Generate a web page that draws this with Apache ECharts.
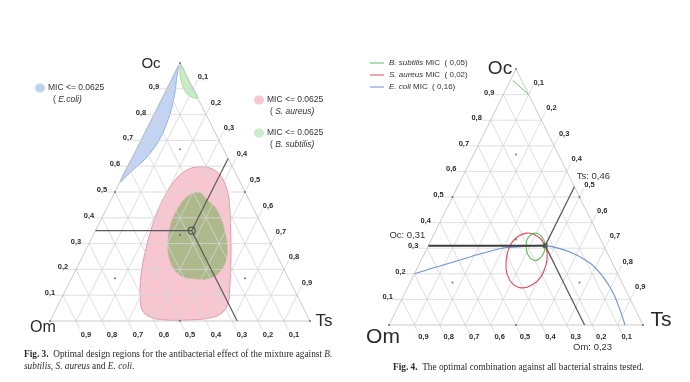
<!DOCTYPE html>
<html><head><meta charset="utf-8">
<script src="https://cdn.jsdelivr.net/npm/echarts@6/dist/echarts.min.js"></script>
<style>html,body{margin:0;padding:0;background:#fff}#c{width:690px;height:382px}</style>
</head><body><div id="c"></div>
<script>
// ---------------- DATA (compositions as [Om, Ts, Oc]) ----------------
const ticks = [0.1, 0.2, 0.3, 0.4, 0.5, 0.6, 0.7, 0.8, 0.9];
const tickLabels = ['0,1', '0,2', '0,3', '0,4', '0,5', '0,6', '0,7', '0,8', '0,9'];
const vertexNames = ['Om', 'Ts', 'Oc'];

// simplex-centroid design points (with axial points)
const designPoints = [[1,0,0],[0,1,0],[0,0,1],[0.5,0.5,0],[0.5,0,0.5],[0,0.5,0.5],
  [0.333,0.333,0.334],[0.667,0.167,0.166],[0.167,0.667,0.166],[0.167,0.167,0.666]];

// Fig. 3 regions (MIC <= 0.0625)
const ecoliRegion3 = [[0.01,0,0.99],[0.04,0.015,0.945],[0.08,0.04,0.88],[0.135,0.06,0.805],[0.22,0.07,0.71],
  [0.31,0.055,0.635],[0.405,0.02,0.575],[0.46,0,0.54],[0.35,0,0.65],[0.2,0,0.8],[0.08,0,0.92]];
const saureusRegion3 = [[0.136,0.267,0.597],[0.089,0.318,0.593],[0.063,0.371,0.566],[0.065,0.427,0.508],
  [0.093,0.477,0.43],[0.138,0.529,0.333],[0.186,0.578,0.236],[0.238,0.622,0.14],[0.28,0.65,0.07],
  [0.323,0.646,0.031],[0.379,0.609,0.012],[0.46,0.536,0.004],[0.556,0.44,0.004],[0.607,0.377,0.016],
  [0.624,0.333,0.043],[0.603,0.296,0.101],[0.561,0.261,0.178],[0.503,0.233,0.264],[0.435,0.212,0.353],
  [0.37,0.2,0.43],[0.3,0.2,0.5],[0.235,0.211,0.554],[0.181,0.234,0.585]];
const bsubtilisRegion3 = [[0.181,0.319,0.5],[0.161,0.37,0.469],[0.143,0.427,0.43],[0.156,0.503,0.341],
  [0.187,0.549,0.264],[0.23,0.561,0.209],[0.287,0.542,0.171],[0.353,0.484,0.163],[0.411,0.411,0.178],
  [0.422,0.353,0.225],[0.403,0.31,0.287],[0.356,0.28,0.364],[0.297,0.273,0.43],[0.232,0.287,0.481]];
const bsubtilisApex3 = [[0,0.005,0.995],[0,0.07,0.93],[0,0.136,0.864],[0.03,0.094,0.876],[0.035,0.058,0.907],[0.023,0.024,0.953]];
const optimum3 = [0.28, 0.37, 0.35];
const legend3 = ['E.coli', 'S. aureus', 'B. subtilis'];
const micLimit3 = '0.0625';

// Fig. 4 contours
const bsubtilisContour4 = [[0.246,0.395,0.359],[0.228,0.424,0.348],[0.226,0.454,0.32],[0.247,0.468,0.285],
  [0.28,0.462,0.258],[0.306,0.44,0.254],[0.316,0.411,0.273],[0.308,0.387,0.305],[0.283,0.377,0.34]];
const saureusContour4 = [[0.277,0.364,0.359],[0.243,0.409,0.348],[0.23,0.45,0.32],[0.237,0.482,0.281],
  [0.265,0.501,0.234],[0.308,0.504,0.188],[0.359,0.485,0.156],[0.404,0.451,0.145],[0.432,0.408,0.16],
  [0.436,0.365,0.199],[0.416,0.338,0.246],[0.377,0.322,0.301],[0.33,0.33,0.34]];
const ecoliContour4 = [[0.8,0,0.2],[0.715,0.062,0.223],[0.593,0.153,0.254],[0.489,0.23,0.281],[0.4,0.299,0.301],
  [0.343,0.352,0.305],[0.23,0.46,0.31],[0.145,0.57,0.285],[0.088,0.67,0.242],[0.063,0.749,0.188],
  [0.055,0.82,0.125],[0.061,0.88,0.059],[0.071,0.929,0]];
const bsubtilisApex4 = [[0.035,0.01,0.955],[0,0.1,0.9]];
const optimum4 = [0.23, 0.46, 0.31];
const legend4 = ['B. subtilis', 'S. aureus', 'E. coli'];
const mic4 = ['0,05', '0,02', '0,16'];

// ---------------- helpers ----------------
const toXY = p => [p[1] + p[2] / 2, p[2]];
const fmt = v => v.toFixed(2).replace('.', ',');
const EXT = 0.035;
const FIELD = [[0.5, 0.5]];

function gridSegments() {
  const s = [];
  ticks.forEach(t => {
    s.push([[1 - t + EXT, -EXT, t], [0, 1 - t, t]]);       // Oc = t
    s.push([[1 - t, t, 0], [-EXT, t, 1 - t + EXT]]);       // Ts = t
    s.push([[t, 0, 1 - t], [t, 1 - t + EXT, -EXT]]);       // Om = t
  });
  return s;
}
const edges = [[[1,0,0],[0,1,0]], [[0,1,0],[0,0,1]], [[0,0,1],[1,0,0]]];

function base(gi, z) {
  return { type: 'custom', coordinateSystem: 'cartesian2d', xAxisIndex: gi, yAxisIndex: gi, clip: false, silent: true, z: z };
}
function segSeries(gi, segs, color, width, z) {
  return Object.assign(base(gi, z), {
    data: segs.map(() => [0.5, 0.5]),
    renderItem: (params, api) => {
      const sg = segs[params.dataIndex];
      const a = api.coord(toXY(sg[0])), b = api.coord(toXY(sg[1]));
      return { type: 'line', shape: { x1: a[0], y1: a[1], x2: b[0], y2: b[1] }, style: { stroke: color, lineWidth: width } };
    }
  });
}
function polySeries(gi, pts, fill, stroke, width, smooth, z, closed) {
  return Object.assign(base(gi, z), {
    data: FIELD,
    renderItem: (params, api) => ({
      type: closed ? 'polygon' : 'polyline',
      shape: { points: pts.map(p => api.coord(toXY(p))), smooth: smooth },
      style: { fill: fill, stroke: stroke, lineWidth: width }
    })
  });
}
function textSeries(gi, items, z) { // items: {p, text, dx, dy, font, align}
  return Object.assign(base(gi, z), {
    data: items.map(() => [0.5, 0.5]),
    renderItem: (params, api) => {
      const it = items[params.dataIndex];
      const c = api.coord(toXY(it.p));
      return { type: 'text', x: c[0] + it.dx, y: c[1] + it.dy,
        style: { text: it.text, font: it.font, fill: it.color || '#2a2a2a', align: it.align || 'center', verticalAlign: 'middle' } };
    }
  });
}
function tickItems(off, font) {
  const out = [];
  ticks.forEach((t, i) => {
    out.push({ p: [1 - t, 0, t], text: tickLabels[i], dx: off.left[0], dy: off.left[1], font });
    out.push({ p: [0, t, 1 - t], text: tickLabels[i], dx: off.right[0], dy: off.right[1], font });
    out.push({ p: [t, 1 - t, 0], text: tickLabels[i], dx: off.bottom[0], dy: off.bottom[1], font });
  });
  return out;
}
function optimumSegs(p) {
  return [[p, [1 - p[2], 0, p[2]]], [p, [0, p[1], 1 - p[1]]], [p, [p[0], 1 - p[0], 0]]];
}

const GRID_C = '#d6d6d6';
const series = [];

// ---------- Fig. 3 (grid 0) ----------
series.push(polySeries(0, saureusRegion3, '#f8c6d0', '#d98a9a', 0.8, 0.4, 2, true));
series.push(polySeries(0, ecoliRegion3, '#c2d3f3', '#86a3dc', 0.8, 0.3, 2, true));
series.push(polySeries(0, bsubtilisApex3, '#c9edc6', '#9fd29c', 0.8, 0.3, 2, true));
series.push(polySeries(0, bsubtilisRegion3, '#adb88b', '#c7b59a', 0.8, 0.4, 3, true));
series.push(segSeries(0, gridSegments(), GRID_C, 0.8, 4));
series.push(segSeries(0, edges, '#c4c4c4', 0.9, 4));
series.push({ type: 'scatter', xAxisIndex: 0, yAxisIndex: 0, data: designPoints.map(toXY), symbolSize: 2,
  itemStyle: { color: '#555' }, silent: true, z: 5 });
series.push(segSeries(0, optimumSegs(optimum3), '#5a5a5a', 1.2, 6));
series.push({ type: 'scatter', xAxisIndex: 0, yAxisIndex: 0, data: [toXY(optimum3)], symbolSize: 7,
  itemStyle: { color: 'rgba(0,0,0,0)', borderColor: '#444', borderWidth: 1.2 }, silent: true, z: 7 });
series.push(textSeries(0, tickItems({ left: [-13, -2], right: [10, -12], bottom: [10, 14] }, 'bold 7.5px Arial'), 8));
series.push(textSeries(0, [
  { p: [0, 0, 1], text: vertexNames[2], dx: -29, dy: 1, font: '15px Arial' },
  { p: [1, 0, 0], text: vertexNames[0], dx: -7, dy: 7, font: '16px Arial' },
  { p: [0, 1, 0], text: vertexNames[1], dx: 14, dy: 0, font: '17px Arial' }
], 8));

// ---------- Fig. 4 (grid 1) ----------
series.push(segSeries(1, gridSegments(), GRID_C, 0.8, 1));
series.push(segSeries(1, edges, '#c4c4c4', 0.9, 1));
series.push({ type: 'scatter', xAxisIndex: 1, yAxisIndex: 1, data: designPoints.map(toXY), symbolSize: 2,
  itemStyle: { color: '#555' }, silent: true, z: 2 });
series.push(polySeries(1, ecoliContour4, 'none', '#6f92d8', 1.1, 0.35, 3, false));
series.push(polySeries(1, saureusContour4, 'none', '#df4d5b', 1.1, 0.4, 3, true));
series.push(polySeries(1, bsubtilisContour4, 'none', '#5cbf5c', 1.1, 0.4, 3, true));
series.push(polySeries(1, bsubtilisApex4, 'none', '#6cc66c', 1, 0, 3, false));
series.push(segSeries(1, optimumSegs(optimum4).slice(0, 1), '#3c3c3c', 2, 4));
series.push(segSeries(1, optimumSegs(optimum4).slice(1), '#555', 1.2, 4));
series.push({ type: 'scatter', xAxisIndex: 1, yAxisIndex: 1, data: [toXY(optimum4)], symbol: 'rect', symbolSize: 5,
  itemStyle: { color: '#555' }, silent: true, z: 5 });
series.push(textSeries(1, tickItems({ left: [-14, -2], right: [10, -12], bottom: [9, 12] }, 'bold 7.5px Arial'), 8));
series.push(textSeries(1, [
  { p: [0, 0, 1], text: vertexNames[2], dx: -16, dy: 0, font: '19px Arial' },
  { p: [1, 0, 0], text: vertexNames[0], dx: -6, dy: 12, font: '21px Arial' },
  { p: [0, 1, 0], text: vertexNames[1], dx: 18, dy: -5, font: '21px Arial' },
  { p: [1 - optimum4[2], 0, optimum4[2]], text: 'Oc: ' + fmt(optimum4[2]), dx: -21, dy: -10, font: '9.5px Arial', color: '#333' },
  { p: [0, optimum4[1], 1 - optimum4[1]], text: 'Ts: ' + fmt(optimum4[1]), dx: 19, dy: -10, font: '9.5px Arial', color: '#333' },
  { p: [optimum4[0], 1 - optimum4[0], 0], text: 'Om: ' + fmt(optimum4[0]), dx: 8, dy: 22, font: '9.5px Arial', color: '#333' }
], 8));

// ---------- legends & captions (graphic) ----------
const serif = '"Liberation Serif", "DejaVu Serif", serif';
const CAP = 9.3;
const capRich = {
  b: { fontFamily: serif, fontSize: CAP, fontWeight: 'bold', fill: '#2a2a2a' },
  n: { fontFamily: serif, fontSize: CAP, fill: '#2a2a2a' },
  i: { fontFamily: serif, fontSize: CAP, fontStyle: 'italic', fill: '#2a2a2a' }
};
const legRich = {
  n: { fontFamily: 'Arial', fontSize: 8.5, fill: '#333' },
  i: { fontFamily: 'Arial', fontSize: 8.5, fontStyle: 'italic', fill: '#333' }
};
const leg4Rich = {
  n: { fontFamily: 'Arial', fontSize: 8, fill: '#333' },
  i: { fontFamily: 'Arial', fontSize: 8, fontStyle: 'italic', fill: '#333' }
};
const legendColors3 = ['#c2d3f3', '#f8c6d0', '#c9edc6'];
const legendPos3 = [[40, 88, 48, 53], [259, 100, 267, 270], [259, 133, 267, 270]];
const legendColors4 = ['#5cbf5c', '#df4d5b', '#6f92d8'];
const graphic = [];
legend3.forEach((name, k) => {
  const p = legendPos3[k];
  graphic.push({ type: 'ellipse', shape: { cx: p[0], cy: p[1], rx: 5, ry: 4.5 }, style: { fill: legendColors3[k] } });
  graphic.push({ type: 'text', x: p[2], y: p[1], style: { text: '{n|MIC <= ' + micLimit3 + '}', rich: legRich, verticalAlign: 'middle' } });
  graphic.push({ type: 'text', x: p[3], y: p[1] + 12, style: { text: '{n|( }{i|' + name + ')}', rich: legRich, verticalAlign: 'middle' } });
});
legend4.forEach((name, k) => {
  const y = 63 + k * 12;
  graphic.push({ type: 'line', shape: { x1: 370, y1: y, x2: 384, y2: y }, style: { stroke: legendColors4[k], lineWidth: 1 } });
  graphic.push({ type: 'text', x: 389, y: y, style: { text: '{i|' + name + '}{n| MIC  ( ' + mic4[k] + ')}', rich: leg4Rich, verticalAlign: 'middle' } });
});
graphic.push({ type: 'text', x: 24, y: 355, style: { verticalAlign: 'middle', rich: capRich,
  text: '{b|Fig. 3.}{n|  Optimal design regions for the antibacterial effect of the mixture against }{i|B.}' } });
graphic.push({ type: 'text', x: 24, y: 367, style: { verticalAlign: 'middle', rich: capRich,
  text: '{i|subtilis, S. aureus}{n| and }{i|E. coli}{n|.}' } });
graphic.push({ type: 'text', x: 393, y: 368, style: { verticalAlign: 'middle', rich: capRich,
  text: '{b|Fig. 4.}{n|  The optimal combination against all bacterial strains tested.}' } });

const chart = echarts.init(document.getElementById('c'));
chart.setOption({
  animation: false,
  grid: [
    { left: 50, top: 63, width: 260, height: 258 },
    { left: 389, top: 69, width: 254, height: 256 }
  ],
  xAxis: [
    { type: 'value', gridIndex: 0, min: 0, max: 1, show: false },
    { type: 'value', gridIndex: 1, min: 0, max: 1, show: false }
  ],
  yAxis: [
    { type: 'value', gridIndex: 0, min: 0, max: 1, show: false },
    { type: 'value', gridIndex: 1, min: 0, max: 1, show: false }
  ],
  series: series,
  graphic: graphic
});
</script></body></html>
